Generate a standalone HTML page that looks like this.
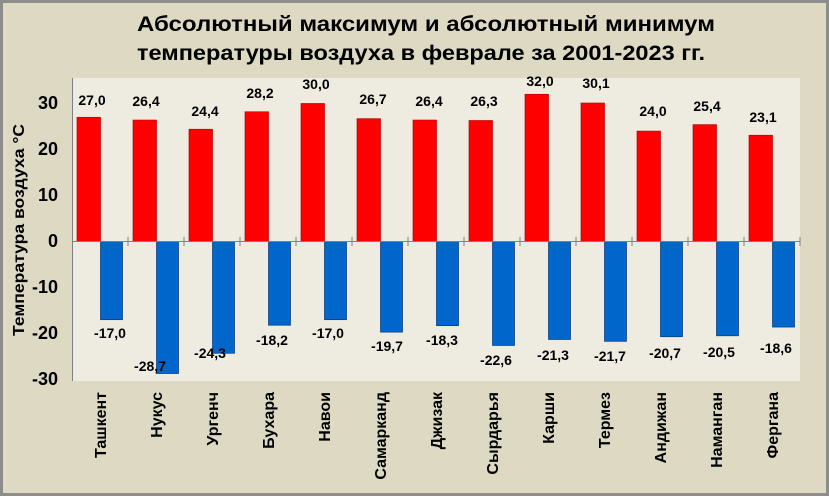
<!DOCTYPE html>
<html><head><meta charset="utf-8"><style>
html,body{margin:0;padding:0;}
svg{display:block;}
text{font-family:"Liberation Sans","DejaVu Sans",sans-serif;font-weight:bold;fill:#000;}
</style></head><body>
<svg width="829" height="496" xmlns="http://www.w3.org/2000/svg">
<rect x="0" y="0" width="829" height="496" fill="#8c8c8c"/>
<rect x="3" y="3" width="823" height="490" fill="#ddd9c3"/>
<rect x="72" y="78" width="728" height="303" fill="#eeece1"/>
<text x="426" y="31" font-size="21" text-anchor="middle" textLength="578" lengthAdjust="spacingAndGlyphs">Абсолютный максимум и абсолютный минимум</text>
<text x="421" y="60" font-size="21" text-anchor="middle" textLength="568" lengthAdjust="spacingAndGlyphs">температуры воздуха в феврале за 2001-2023 гг.</text>
<text transform="translate(24,230) rotate(-90)" font-size="16" text-anchor="middle" textLength="212" lengthAdjust="spacingAndGlyphs">Температура воздуха °C</text>
<g font-size="18" text-anchor="end">
<text x="58" y="109">30</text><text x="58" y="155">20</text><text x="58" y="201">10</text>
<text x="58" y="247">0</text><text x="58" y="293">-10</text><text x="58" y="339">-20</text><text x="58" y="385">-30</text>
</g>
<line x1="72.5" y1="78" x2="72.5" y2="381" stroke="#808080"/>
</svg>
<script>
var names=["Ташкент","Нукус","Ургенч","Бухара","Навои","Самарканд","Джизак","Сырдарья","Карши","Термез","Андижан","Наманган","Фергана"];
var mx=[27.0,26.4,24.4,28.2,30.0,26.7,26.4,26.3,32.0,30.1,24.0,25.4,23.1];
var mn=[-17.0,-28.7,-24.3,-18.2,-17.0,-19.7,-18.3,-22.6,-21.3,-21.7,-20.7,-20.5,-18.6];
var mxp=[[92,100],[146,101],[205,111],[260,93],[316,84],[373,99],[429,101],[484,101],[540,81],[596,83],[653,111],[707,106],[763,117]];
var mnp=[[110,333],[150,366],[210,353],[272,340],[328,333],[387,346],[442,340],[496,360],[553,355],[610,356],[665,353],[719,352],[776,348]];
var s=document.querySelector('svg'),ns="http://www.w3.org/2000/svg";
function el(t,a,txt){var e=document.createElementNS(ns,t);for(var k in a)e.setAttribute(k,a[k]);if(txt)e.textContent=txt;s.appendChild(e);return e;}
var z=241.5,k=4.6,w=56;
function f(v){return v.toFixed(1).replace('.',',');}
for(var i=0;i<13;i++){
 var x0=72+w*i;
 var h=mx[i]*k;
 el('rect',{x:x0+5,y:z-h,width:23.5,height:h,fill:'#ff0000',stroke:'#c00000','stroke-width':0.7});
 var h2=-mn[i]*k;
 el('rect',{x:x0+28.5,y:z,width:22,height:h2,fill:'#0066cc',stroke:'#003a80','stroke-width':0.7});
}
el('line',{x1:72,y1:241.5,x2:800,y2:241.5,stroke:'#808080'});
for(var i=0;i<13;i++){
 var x0=72+w*i;
 el('text',{x:mxp[i][0],y:mxp[i][1]+5,'font-size':14,'text-anchor':'middle'},f(mx[i]));
 el('text',{x:mnp[i][0],y:mnp[i][1]+5,'font-size':14,'text-anchor':'middle'},f(mn[i]));
 el('line',{x1:x0+w,y1:237,x2:x0+w,y2:246,stroke:'#808080'});
 el('text',{transform:'translate('+(x0+34)+',392) rotate(-90)','font-size':16,'text-anchor':'end'},names[i]);
}
</script>
</body></html>
